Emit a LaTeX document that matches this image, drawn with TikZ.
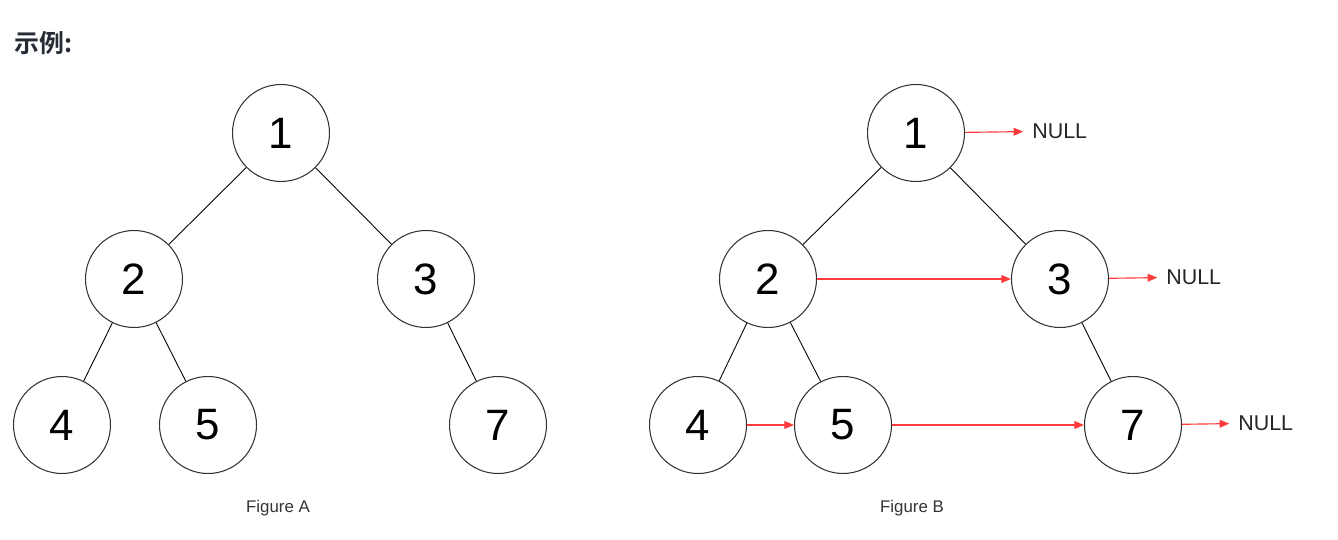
\documentclass[tikz,border=0pt]{standalone}
\usepackage{fontspec}
\setmainfont{Liberation Sans}
\newfontfamily\cjkbold[BoldFont={Noto Sans CJK SC Bold}]{Noto Sans CJK SC}
\usetikzlibrary{arrows.meta}
\definecolor{nullred}{HTML}{FF3B3B}
\definecolor{circgray}{HTML}{333333}
\definecolor{titlecol}{HTML}{262C36}
\begin{document}
\begin{tikzpicture}[x=0.02cm,y=-0.02cm,
  tnode/.style={circle,draw=circgray,line width=0.6pt,minimum size=1.94cm,inner sep=0pt,
     font=\fontsize{25}{30}\selectfont,text=black},
  edge/.style={draw=black,line width=0.5pt},
  link/.style={draw=nullred,line width=0.65pt,-{Triangle[length=5.5pt,width=4.5pt]}},
  nulltext/.style={inner sep=0pt,anchor=west,font=\fontsize{12.2}{14}\selectfont,text=black!85},
  caption/.style={inner sep=0pt,font=\fontsize{9.6}{12}\selectfont,text=black!80}]
\useasboundingbox (0,0) rectangle (1338,540);
\node[anchor=west,inner sep=0pt,text=titlecol,font=\cjkbold\bfseries\fontsize{14.2}{17}\selectfont] (title) at (14,43) {示例:};
% Figure A
\node[tnode] (a1) at (281,133) {1};
\node[tnode] (a2) at (134,279) {2};
\node[tnode] (a3) at (426,279) {3};
\node[tnode] (a4) at (62,425) {4};
\node[tnode] (a5) at (208,425) {5};
\node[tnode] (a7) at (498,425) {7};
\draw[edge] (a1) -- (a2);
\draw[edge] (a1) -- (a3);
\draw[edge] (a2) -- (a4);
\draw[edge] (a2) -- (a5);
\draw[edge] (a3) -- (a7);
\node[caption] (capA) at (278,508) {Figure A};
% Figure B
\node[tnode] (b1) at (916,133) {1};
\node[tnode] (b2) at (768,279) {2};
\node[tnode] (b3) at (1060,279) {3};
\node[tnode] (b4) at (698,425) {4};
\node[tnode] (b5) at (843,425) {5};
\node[tnode] (b7) at (1133,425) {7};
\draw[edge] (b1) -- (b2);
\draw[edge] (b1) -- (b3);
\draw[edge] (b2) -- (b4);
\draw[edge] (b2) -- (b5);
\draw[edge] (b3) -- (b7);
\node[nulltext] (n1) at (1032,131.5) {NULL};
\node[nulltext] (n3) at (1166,277.5) {NULL};
\node[nulltext] (n7) at (1238,423.5) {NULL};
\draw[link,shorten >=5pt] (b1) -- (n1.west);
\draw[link,shorten >=5pt] (b3) -- (n3.west);
\draw[link,shorten >=5pt] (b7) -- (n7.west);
\draw[link] (b2) -- (b3);
\draw[link] (b4) -- (b5);
\draw[link] (b5) -- (b7);
\node[caption] (capB) at (912,508) {Figure B};
\end{tikzpicture}
\end{document}
